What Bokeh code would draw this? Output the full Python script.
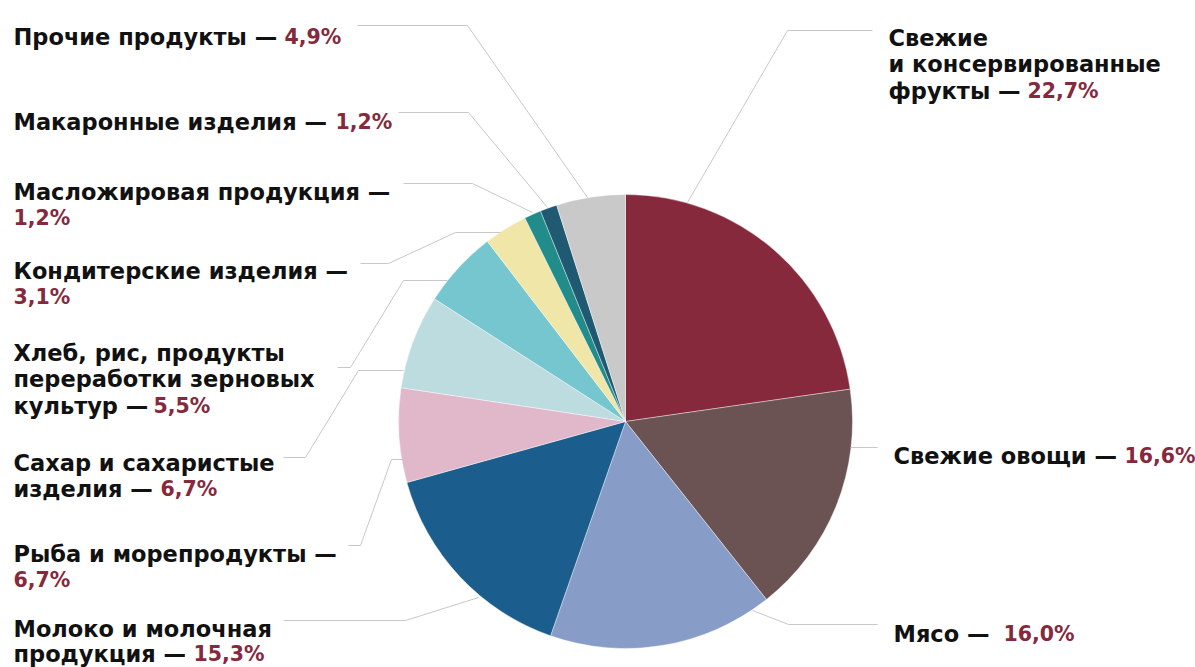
import math
from bokeh.plotting import figure
from bokeh.models import ColumnDataSource, Range1d
from bokeh.core.properties import value
from bokeh.embed import file_html
from bokeh.resources import INLINE

# ---- data ----
categories = [
    "Свежие и консервированные фрукты",
    "Свежие овощи",
    "Мясо",
    "Молоко и молочная продукция",
    "Рыба и морепродукты",
    "Сахар и сахаристые изделия",
    "Хлеб, рис, продукты переработки зерновых культур",
    "Кондитерские изделия",
    "Масложировая продукция",
    "Макаронные изделия",
    "Прочие продукты",
]
values = [22.7, 16.6, 16.0, 15.3, 6.7, 6.7, 5.5, 3.1, 1.2, 1.2, 4.9]
colors = ["#86293c", "#6b5253", "#879cc7", "#1b5e8e", "#e0b8ca", "#bddcdf",
          "#75c6cf", "#f0e6a8", "#228c8a", "#1f5a72", "#c9c9c9"]

# label text split into lines (layout); percent appended in red
label_lines = [
    ["Свежие", "и консервированные", "фрукты — "],
    ["Свежие овощи — "],
    ["Мясо  — "],
    ["Молоко и молочная", "продукция — "],
    ["Рыба и морепродукты —"],
    ["Сахар и сахаристые", "изделия — "],
    ["Хлеб, рис, продукты", "переработки зерновых", "культур — "],
    ["Кондитерские изделия —"],
    ["Масложировая продукция —"],
    ["Макаронные изделия — "],
    ["Прочие продукты — "],
]

# ---- layout (screen px, y from top) ----
W, H = 1195, 667
CX, CY, R = 625, 421, 227
LH = 26.5
# x, first baseline, line height, percent position:
# ("same", x) on last line or ("new", None) on a new line
label_pos = [
    (888, 37, LH, ("same", 1027)),
    (893, 455, LH, ("same", 1124)),
    (893, 633, LH, ("same", 1003)),
    (13, 628, 25.5, ("same", 193)),
    (13, 553, LH, ("new", None)),
    (13, 462, LH, ("same", 160)),
    (13, 352, LH, ("same", 153)),
    (13, 270, LH, ("new", None)),
    (13, 191, LH, ("new", None)),
    (13, 121, LH, ("same", 335)),
    (13, 36, LH, ("same", 284)),
]
leaders = [
    [(687, 202), (787, 30), (872, 30)],
    [(850, 447), (877, 447)],
    [(752, 610), (788, 624), (877, 624)],
    [(478, 597), (405, 620), (283, 620)],
    [(402, 459), (391, 459), (360, 545), (348, 545)],
    [(403, 370), (358, 370), (305, 457), (283, 457)],
    [(447, 280), (403, 280), (350, 367), (337, 367)],
    [(500, 232), (455, 232), (388, 263), (360, 263)],
    [(532, 212), (472, 183), (403, 183)],
    [(547, 207), (468, 112), (398, 112)],
    [(587, 197), (467, 25), (357, 25)],
]

FONT = "DejaVu Sans"
FS = "22.5px"
FS_PCT = "20.5px"
TXT = "#111111"
PCT = "#86293c"

p = figure(width=W, height=H, x_range=Range1d(0, W), y_range=Range1d(0, H),
           output_backend="svg", toolbar_location=None, min_border=0)
p.axis.visible = False
p.grid.visible = False
p.outline_line_color = None
p.background_fill_color = "white"
p.border_fill_color = "white"

# wedges
total = sum(values)
starts, ends = [], []
cum = 0.0
for v in values:
    starts.append(math.pi / 2 - 2 * math.pi * cum / total)
    cum += v
    ends.append(math.pi / 2 - 2 * math.pi * cum / total)
src = ColumnDataSource(dict(start=starts, end=ends, color=colors, cat=categories, val=values))
p.wedge(x=CX, y=H - CY, radius=R, radius_units="screen", start_angle="start",
        end_angle="end", direction="clock", fill_color="color", line_color="white",
        line_width=0.4, source=src)

# leader lines
p.multi_line(xs=[[pt[0] for pt in path] for path in leaders],
             ys=[[H - pt[1] for pt in path] for path in leaders],
             line_color="#c8c8c8", line_width=1)

# labels
bx, by, bt = [], [], []
rx, ry, rt = [], [], []
for lines, (x0, y0, lh, (mode, pxr)), v in zip(label_lines, label_pos, values):
    for i, ln in enumerate(lines):
        bx.append(x0); by.append(H - (y0 + i * lh)); bt.append(ln)
    pct = f"{v:.1f}".replace(".", ",") + "%"
    if mode == "same":
        rx.append(pxr); ry.append(H - (y0 + (len(lines) - 1) * lh))
    else:
        rx.append(x0); ry.append(H - (y0 + len(lines) * lh))
    rt.append(pct)

p.text(x=bx, y=by, text=bt, text_font=value(FONT), text_font_style="bold",
       text_font_size=FS, text_color=TXT, text_baseline="alphabetic", text_align="left")
p.text(x=rx, y=ry, text=rt, text_font=value(FONT), text_font_style="bold",
       text_font_size=FS_PCT, text_color=PCT, text_baseline="alphabetic", text_align="left")

open("out.html", "w").write(file_html(p, INLINE))
